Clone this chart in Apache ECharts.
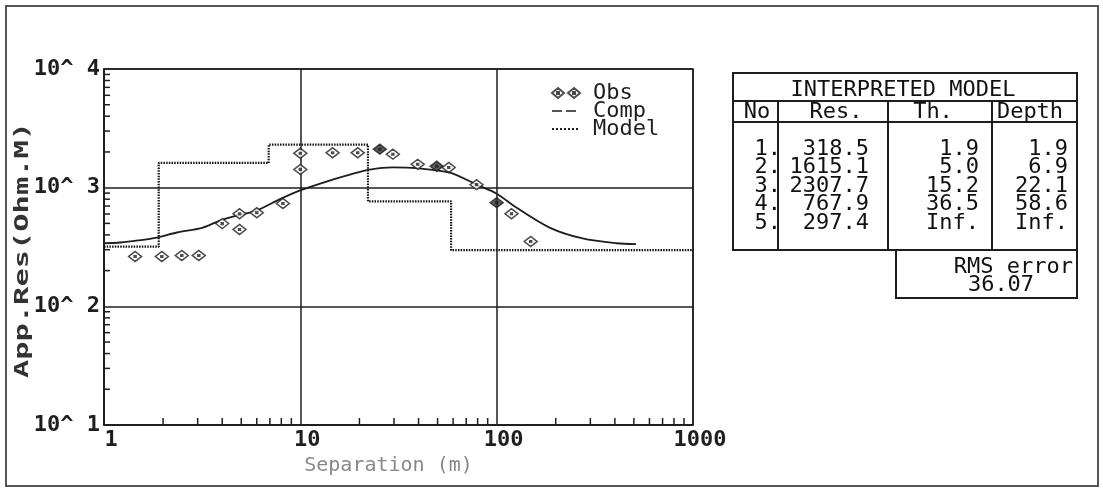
<!DOCTYPE html>
<html>
<head>
<meta charset="utf-8">
<script src="https://cdn.jsdelivr.net/npm/echarts@6/dist/echarts.min.js"></script>
<style>
html, body { margin: 0; padding: 0; background: #fff; }
#main { width: 1103px; height: 496px; }
</style>
</head>
<body>
<div id="main"></div>
<script>
var obsX = [1.44, 1.97, 2.49, 3.04, 4.0, 4.9, 4.9, 6.0, 8.15, 10, 10, 14.6, 19.6, 25.4, 29.6, 39.6, 49.5, 57, 79, 100, 119, 149];
var obsY = [263, 263, 268, 268, 498, 603, 444, 615, 735, 1425, 1950, 1970, 1970, 2110, 1915, 1573, 1514, 1480, 1060, 748, 603, 352];
var obsDark = [13, 16, 19];   // these print as filled blobs

// computed curve
var compX = [1, 1.21, 1.49, 1.86, 2.35, 3.19, 3.89, 4.75, 6.0, 7.6, 9.9, 14.6, 17.9, 22.6, 29.6, 39, 57.7, 79, 100, 126, 186, 274, 408, 513];
var compY = [340, 345, 359, 380, 419, 461, 528, 582, 641, 778, 944, 1170, 1290, 1420, 1480, 1460, 1340, 1060, 890, 680, 461, 373, 340, 335];

// interpreted model table
var layerNo = ['1.', '2.', '3.', '4.', '5.'];
var layerRes = [318.5, 1615.1, 2307.7, 767.9, 297.4];
var layerTh = ['1.9', '5.0', '15.2', '36.5', 'Inf.'];
var layerDepth = [1.9, 6.9, 22.1, 58.6];
var depthLabels = ['1.9', '6.9', '22.1', '58.6', 'Inf.'];
var rmsError = '36.07';

var xRange = [1, 1000];
var yRange = [10, 10000];

var MONO = '"DejaVu Sans Mono", "Liberation Mono", monospace';
var INK = '#1e1e1e';

// model as a step line
var modelPts = [[xRange[0], layerRes[0]]];
layerDepth.forEach(function (d, i) {
    modelPts.push([d, layerRes[i]]);
    modelPts.push([d, layerRes[i + 1]]);
});
modelPts.push([xRange[1], layerRes[layerRes.length - 1]]);

var obsData = obsX.map(function (x, i) {
    var item = { value: [x, obsY[i]] };
    if (obsDark.indexOf(i) != -1) item.itemStyle = { color: '#333' };
    return item;
});
var compData = compX.map(function (x, i) { return [x, compY[i]]; });

// minor log ticks (2..9 per decade)
var xMinor = [], yMinor = [];
for (var p = 0; p < 3; p++) {
    for (var m = 2; m < 10; m++) {
        xMinor.push([m * Math.pow(10, p), yRange[0]]);
        yMinor.push([xRange[0], m * Math.pow(10, p + 1)]);
    }
}

var obsSymbol = 'path://M0,4.5L6,0L12,4.5L6,9Z M5.2,3.7L6.8,3.7L6.8,5.3L5.2,5.3Z';
var obsIcon = 'path://M0,5L6,0L12,5L6,10Z M5,4L7,4L7,6L5,6Z M16,5L22,0L28,5L22,10Z M21,4L23,4L23,6L21,6Z';
var noMark = { color: 'rgba(0,0,0,0)', borderColor: 'rgba(0,0,0,0)', borderWidth: 0 };

// table graphics
var tbl = { l: 733, r: 1077, t: 73, b: 250, title: 101, head: 122 };
var cols = [778, 888, 992];
var rowY = [149, 167.5, 186, 204.5, 223];

function hline(x1, x2, y) {
    return { type: 'line', shape: { x1: x1, y1: y, x2: x2, y2: y }, style: { stroke: INK, lineWidth: 2 } };
}
function vline(x, y1, y2) {
    return { type: 'line', shape: { x1: x, y1: y1, x2: x, y2: y2 }, style: { stroke: INK, lineWidth: 2 } };
}
function txt(s, x, y, align) {
    return { type: 'text', x: x, y: y, style: { text: s, font: '22px ' + MONO, fill: '#111', align: align || 'center', verticalAlign: 'middle' } };
}

var graphics = [
    { type: 'rect', shape: { x: 6, y: 6, width: 1092, height: 480 }, style: { fill: null, stroke: '#555', lineWidth: 2 } },
    { type: 'rect', shape: { x: tbl.l, y: tbl.t, width: tbl.r - tbl.l, height: tbl.b - tbl.t }, style: { fill: null, stroke: INK, lineWidth: 2 } },
    hline(tbl.l, tbl.r, tbl.title),
    hline(tbl.l, tbl.r, tbl.head),
    { type: 'rect', shape: { x: 896, y: tbl.b, width: tbl.r - 896, height: 48 }, style: { fill: null, stroke: INK, lineWidth: 2 } },
    txt('INTERPRETED MODEL', 903, 90),
    txt('No', 757, 112),
    txt('Res.', 836, 112),
    txt('Th.', 933, 112),
    txt('Depth', 1030, 112),
    txt('RMS error', 1073, 267, 'right'),
    txt(rmsError, 1001, 285)
];
cols.forEach(function (c) { graphics.push(vline(c, tbl.title, tbl.b)); });
rowY.forEach(function (y, i) {
    graphics.push(txt(layerNo[i], 781, y, 'right'));
    graphics.push(txt(layerRes[i].toFixed(1), 869, y, 'right'));
    graphics.push(txt(layerTh[i], 979, y, 'right'));
    graphics.push(txt(depthLabels[i], 1068, y, 'right'));
});
// y axis title
graphics.push({
    type: 'text', x: 23, y: 250, rotation: Math.PI / 2, scaleX: 1.52,
    style: { text: 'App.Res(Ohm.M)', font: 'bold 20px ' + MONO, fill: '#333', align: 'center', verticalAlign: 'middle' }
});

var chart = echarts.init(document.getElementById('main'));

chart.setOption({
    backgroundColor: '#fff',
    animation: false,
    grid: { left: 104, right: 410, top: 69, bottom: 71, show: true, borderColor: INK, borderWidth: 1.5 },
    legend: {
        orient: 'vertical',
        left: 546, top: 77,
        itemWidth: 28, itemHeight: 10, itemGap: -4,
        textStyle: { fontFamily: MONO, fontSize: 22, color: INK, padding: [0, 0, 0, 8] },
        data: [
            { name: 'Obs', icon: obsIcon },
            { name: 'Comp', itemStyle: noMark, lineStyle: { type: [10, 4], width: 1.5, color: INK } },
            { name: 'Model', itemStyle: noMark, lineStyle: { type: [2, 2], width: 2, color: INK } }
        ]
    },
    xAxis: {
        type: 'log', logBase: 10, min: xRange[0], max: xRange[1],
        axisLine: { show: true, lineStyle: { color: INK, width: 1.5 } },
        axisTick: { show: false },
        splitLine: { show: true, lineStyle: { color: INK, width: 1.5 } },
        axisLabel: {
            fontFamily: MONO, fontWeight: 'bold', fontSize: 22, color: INK, margin: 4,
            padding: [0, 0, 0, 14], showMinLabel: true, showMaxLabel: true,
            formatter: function (v) { return String(Math.round(v)); }
        },
        name: 'Separation (m)', nameLocation: 'middle', nameGap: 30,
        nameTextStyle: { fontFamily: MONO, fontSize: 20, color: '#888', padding: [0, 20, 0, 0] }
    },
    yAxis: {
        type: 'log', logBase: 10, min: yRange[0], max: yRange[1],
        axisLine: { show: true, lineStyle: { color: INK, width: 1.5 } },
        axisTick: { show: false },
        splitLine: { show: true, lineStyle: { color: INK, width: 1.5 } },
        axisLabel: {
            fontFamily: MONO, fontWeight: 'bold', fontSize: 22, color: INK, margin: 4,
            showMinLabel: true, showMaxLabel: true,
            formatter: function (v) { return '10^ ' + Math.round(Math.log(v) / Math.LN10); }
        }
    },
    series: [
        {
            name: 'Model', type: 'line', data: modelPts,
            symbol: 'none', showSymbol: false, z: 3,
            itemStyle: { color: INK },
            lineStyle: { color: '#111', width: 2.2, type: [1.5, 1.2] }
        },
        {
            name: 'Comp', type: 'line', data: compData, smooth: 0.3,
            symbol: 'none', showSymbol: false, z: 4,
            itemStyle: { color: INK },
            lineStyle: { color: INK, width: 1.8 }
        },
        {
            name: 'Obs', type: 'scatter', data: obsData,
            symbol: obsSymbol, symbolSize: [13, 10], z: 5,
            itemStyle: { color: '#fff', borderColor: INK, borderWidth: 1.5 }
        },
        {
            type: 'custom', data: yMinor, silent: true, z: 2,
            renderItem: function (params, api) {
                var pt = api.coord([api.value(0), api.value(1)]);
                return { type: 'line', shape: { x1: pt[0], y1: pt[1], x2: pt[0] + 6, y2: pt[1] }, style: { stroke: INK, lineWidth: 1.5 } };
            }
        },
        {
            type: 'custom', data: xMinor, silent: true, z: 2,
            renderItem: function (params, api) {
                var pt = api.coord([api.value(0), api.value(1)]);
                return { type: 'line', shape: { x1: pt[0], y1: pt[1], x2: pt[0], y2: pt[1] - 7 }, style: { stroke: INK, lineWidth: 1.5 } };
            }
        }
    ],
    graphic: graphics
});
</script>
</body>
</html>
